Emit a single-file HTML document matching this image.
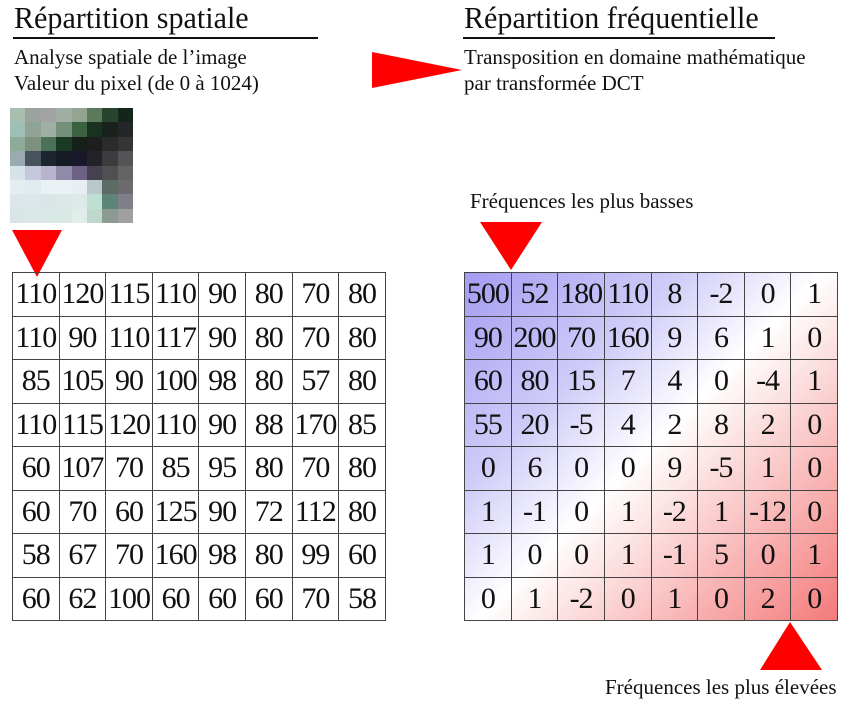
<!DOCTYPE html>
<html><head><meta charset="utf-8"><style>
body{margin:0;width:850px;height:703px;background:#fff;position:relative;overflow:hidden;font-family:"Liberation Serif",serif;color:#111}
.t{position:absolute;white-space:nowrap;transform-origin:0 0}
.g{position:absolute;border-collapse:collapse;table-layout:fixed}
.g td{border:1px solid #444;width:45.6px;height:42.5px;padding:0;text-align:center;font-size:30px;line-height:42px;letter-spacing:-1px;overflow:visible;white-space:nowrap}
.px{position:absolute;left:10px;top:108px;width:123px;height:115px;display:grid;grid-template-columns:repeat(8,1fr);grid-template-rows:repeat(8,1fr)}
</style></head><body>
<div class="t" style="left:14px;top:0px;font-size:31px;transform:scaleX(.97)">Répartition spatiale</div>
<div style="position:absolute;left:13px;top:37px;width:305px;height:2px;background:#111"></div>
<div class="t" style="left:464px;top:0px;font-size:31px;transform:scaleX(.97)">Répartition fréquentielle</div>
<div style="position:absolute;left:463px;top:37px;width:312px;height:2px;background:#111"></div>
<div class="t" style="left:14px;top:44px;font-size:21px;line-height:26px">Analyse spatiale de l’image<br>Valeur du pixel (de 0 à 1024)</div>
<div class="t" style="left:464px;top:44px;font-size:21px;line-height:26px">Transposition en domaine mathématique<br>par transformée DCT</div>
<svg style="position:absolute;left:0;top:0" width="850" height="703">
<polygon points="372,52 462,70 372,88" fill="#f00"/>
<polygon points="12,230 62,230 37,277" fill="#f00"/>
<polygon points="480,222 542,222 511,270" fill="#f00"/>
<polygon points="760,670 822,670 790,622" fill="#f00"/>
</svg>
<div class="t" style="left:470px;top:189px;font-size:21px">Fréquences les plus basses</div>
<div class="t" style="left:605px;top:675px;font-size:21px">Fréquences les plus élevées</div>
<div class="px">
<i style="background:#a8bfb0"></i><i style="background:#9aa39e"></i><i style="background:#a3a3a3"></i><i style="background:#a0aea3"></i><i style="background:#93a590"></i><i style="background:#5b7a5b"></i><i style="background:#27452e"></i><i style="background:#14261a"></i>
<i style="background:#9dbfb6"></i><i style="background:#8fa397"></i><i style="background:#9fafa3"></i><i style="background:#748f7a"></i><i style="background:#3a6140"></i><i style="background:#19321f"></i><i style="background:#1a221e"></i><i style="background:#242729"></i>
<i style="background:#8eaa98"></i><i style="background:#7d917f"></i><i style="background:#4b7259"></i><i style="background:#1b3a25"></i><i style="background:#142018"></i><i style="background:#1c1f1e"></i><i style="background:#2a2b2b"></i><i style="background:#353535"></i>
<i style="background:#9aaab0"></i><i style="background:#48525c"></i><i style="background:#1d2530"></i><i style="background:#151a25"></i><i style="background:#18182a"></i><i style="background:#242229"></i><i style="background:#3c3c3e"></i><i style="background:#545456"></i>
<i style="background:#d5e2ea"></i><i style="background:#c3c8dc"></i><i style="background:#b8b4d0"></i><i style="background:#8f8aa8"></i><i style="background:#6d6283"></i><i style="background:#46404f"></i><i style="background:#505052"></i><i style="background:#646464"></i>
<i style="background:#e3eef1"></i><i style="background:#e0eaef"></i><i style="background:#e8f1f3"></i><i style="background:#ebf2f5"></i><i style="background:#e8eff2"></i><i style="background:#b8c8cc"></i><i style="background:#5c6c64"></i><i style="background:#6b6b6f"></i>
<i style="background:#dce5ea"></i><i style="background:#dde6eb"></i><i style="background:#d9e4e6"></i><i style="background:#dde6e5"></i><i style="background:#dde9e9"></i><i style="background:#bde0d3"></i><i style="background:#5c8478"></i><i style="background:#7f7f8a"></i>
<i style="background:#d7e5e6"></i><i style="background:#d9e8e6"></i><i style="background:#d9e8e4"></i><i style="background:#d8e8e4"></i><i style="background:#e1ede9"></i><i style="background:#bed8cc"></i><i style="background:#8d9a93"></i><i style="background:#a0a0a0"></i>
</div>
<table class="g" style="left:12px;top:272px;width:373px;height:348px">
<tr><td>110</td><td>120</td><td>115</td><td>110</td><td>90</td><td>80</td><td>70</td><td>80</td></tr>
<tr><td>110</td><td>90</td><td>110</td><td>117</td><td>90</td><td>80</td><td>70</td><td>80</td></tr>
<tr><td>85</td><td>105</td><td>90</td><td>100</td><td>98</td><td>80</td><td>57</td><td>80</td></tr>
<tr><td>110</td><td>115</td><td>120</td><td>110</td><td>90</td><td>88</td><td>170</td><td>85</td></tr>
<tr><td>60</td><td>107</td><td>70</td><td>85</td><td>95</td><td>80</td><td>70</td><td>80</td></tr>
<tr><td>60</td><td>70</td><td>60</td><td>125</td><td>90</td><td>72</td><td>112</td><td>80</td></tr>
<tr><td>58</td><td>67</td><td>70</td><td>160</td><td>98</td><td>80</td><td>99</td><td>60</td></tr>
<tr><td>60</td><td>62</td><td>100</td><td>60</td><td>60</td><td>60</td><td>70</td><td>58</td></tr>
</table>
<table class="g" style="left:464px;top:272px;width:374px;height:348px;background:linear-gradient(135deg,#a49cf2 0%,#d0ccf8 30%,#fff 50%,#fbd4d4 66%,#f47a7a 100%)">
<tr><td>500</td><td>52</td><td>180</td><td>110</td><td>8</td><td>-2</td><td>0</td><td>1</td></tr>
<tr><td>90</td><td>200</td><td>70</td><td>160</td><td>9</td><td>6</td><td>1</td><td>0</td></tr>
<tr><td>60</td><td>80</td><td>15</td><td>7</td><td>4</td><td>0</td><td>-4</td><td>1</td></tr>
<tr><td>55</td><td>20</td><td>-5</td><td>4</td><td>2</td><td>8</td><td>2</td><td>0</td></tr>
<tr><td>0</td><td>6</td><td>0</td><td>0</td><td>9</td><td>-5</td><td>1</td><td>0</td></tr>
<tr><td>1</td><td>-1</td><td>0</td><td>1</td><td>-2</td><td>1</td><td>-12</td><td>0</td></tr>
<tr><td>1</td><td>0</td><td>0</td><td>1</td><td>-1</td><td>5</td><td>0</td><td>1</td></tr>
<tr><td>0</td><td>1</td><td>-2</td><td>0</td><td>1</td><td>0</td><td>2</td><td>0</td></tr>
</table>
</body></html>
